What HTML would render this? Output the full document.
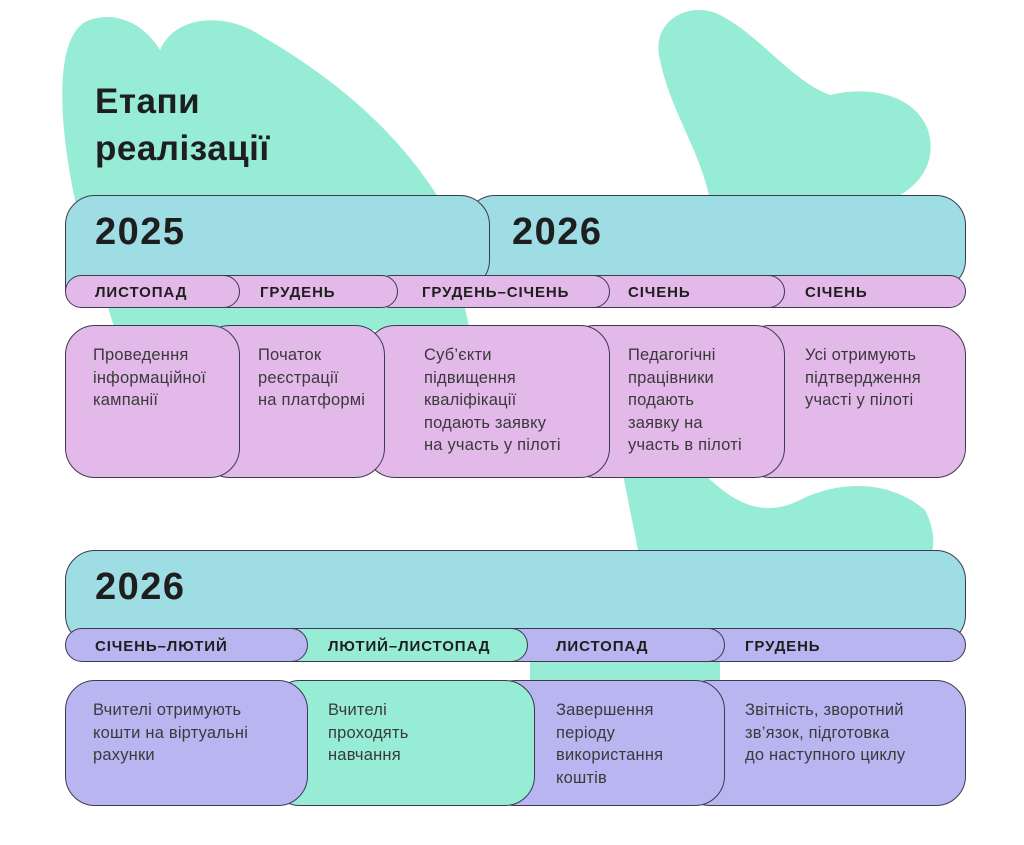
<!DOCTYPE html>
<html><head><meta charset="utf-8"><style>
body{margin:0;width:1024px;height:845px;background:#fff;position:relative;overflow:hidden;font-family:"Liberation Sans","DejaVu Sans",sans-serif;color:#2a2a2a}
.b{position:absolute;box-sizing:border-box;border:1.3px solid #3d3a50}
.t{position:absolute;font-size:16.5px;line-height:22.5px;color:#3a3a3a;letter-spacing:0.2px}
.m{position:absolute;font-size:15px;font-weight:bold;color:#1e1e1e;letter-spacing:0.9px}
.y{position:absolute;font-size:38px;font-weight:bold;color:#1e1e1e;letter-spacing:1.5px}
.tl{background:#9edde3;border-radius:30px}
.pk{background:#e2b9e9}
.pu{background:#b9b5f1}
.mn{background:#97ecd5}
.mp{border-radius:17px}
.cp{border-radius:30px}
</style></head><body>
<svg style="position:absolute;left:0;top:0" width="1024" height="845">
<path d="M75 200 C58 120 55 40 85 22 C115 8 145 25 160 50 C175 15 225 12 260 35 C320 70 390 120 440 200 L470 330 L115 330 Z" fill="#97ecd5"/>
<path d="M660 60 C650 20 690 0 720 15 C760 35 790 80 830 95 C870 85 915 95 928 130 C940 170 910 200 860 210 L760 232 C730 235 715 220 710 200 C700 150 670 110 660 60 Z" fill="#97ecd5"/>
<path d="M622 470 L700 470 C730 500 760 520 800 500 C840 480 890 480 925 510 C935 530 935 545 930 560 L530 560 L530 700 L720 700 L720 560 L640 560 Z" fill="#97ecd5"/>
</svg>
<div style="position:absolute;left:95px;top:78px;font-size:35px;font-weight:bold;line-height:47px;color:#1e1e1e;letter-spacing:0.5px">Етапи<br>реалізації</div>

<div class="b tl" style="left:465px;top:195px;width:501px;height:95px"></div>
<div class="b tl" style="left:65px;top:195px;width:425px;height:95px;border-radius:30px 30px 30px 0"></div>
<div class="y" style="left:95px;top:211px">2025</div>
<div class="y" style="left:512px;top:211px">2026</div>

<div class="b pk mp" style="left:740px;top:275px;width:226px;height:33px"></div>
<div class="b pk mp" style="left:565px;top:275px;width:220px;height:33px"></div>
<div class="b pk mp" style="left:375px;top:275px;width:235px;height:33px"></div>
<div class="b pk mp" style="left:200px;top:275px;width:198px;height:33px"></div>
<div class="b pk mp" style="left:65px;top:275px;width:175px;height:33px"></div>
<div class="m" style="left:95px;top:284px">ЛИСТОПАД</div>
<div class="m" style="left:260px;top:284px">ГРУДЕНЬ</div>
<div class="m" style="left:422px;top:284px">ГРУДЕНЬ–СІЧЕНЬ</div>
<div class="m" style="left:628px;top:284px">СІЧЕНЬ</div>
<div class="m" style="left:805px;top:284px">СІЧЕНЬ</div>

<div class="b pk cp" style="left:740px;top:325px;width:226px;height:153px"></div>
<div class="b pk cp" style="left:565px;top:325px;width:220px;height:153px"></div>
<div class="b pk cp" style="left:365px;top:325px;width:245px;height:153px"></div>
<div class="b pk cp" style="left:200px;top:325px;width:185px;height:153px"></div>
<div class="b pk cp" style="left:65px;top:325px;width:175px;height:153px"></div>
<div class="t" style="left:93px;top:344px">Проведення<br>інформаційної<br>кампанії</div>
<div class="t" style="left:258px;top:344px">Початок<br>реєстрації<br>на платформі</div>
<div class="t" style="left:424px;top:344px">Суб’єкти<br>підвищення<br>кваліфікації<br>подають заявку<br>на участь у пілоті</div>
<div class="t" style="left:628px;top:344px">Педагогічні<br>працівники<br>подають<br>заявку на<br>участь в пілоті</div>
<div class="t" style="left:805px;top:344px">Усі отримують<br>підтвердження<br>участі у пілоті</div>

<div class="b tl" style="left:65px;top:550px;width:901px;height:95px"></div>
<div class="y" style="left:95px;top:566px">2026</div>

<div class="b pu mp" style="left:680px;top:628px;width:286px;height:34px"></div>
<div class="b pu mp" style="left:485px;top:628px;width:240px;height:34px"></div>
<div class="b mn mp" style="left:270px;top:628px;width:258px;height:34px"></div>
<div class="b pu mp" style="left:65px;top:628px;width:243px;height:34px"></div>
<div class="m" style="left:95px;top:638px">СІЧЕНЬ–ЛЮТИЙ</div>
<div class="m" style="left:328px;top:638px">ЛЮТИЙ–ЛИСТОПАД</div>
<div class="m" style="left:556px;top:638px">ЛИСТОПАД</div>
<div class="m" style="left:745px;top:638px">ГРУДЕНЬ</div>

<div class="b pu cp" style="left:680px;top:680px;width:286px;height:126px"></div>
<div class="b pu cp" style="left:485px;top:680px;width:240px;height:126px"></div>
<div class="b mn cp" style="left:270px;top:680px;width:265px;height:126px"></div>
<div class="b pu cp" style="left:65px;top:680px;width:243px;height:126px"></div>
<div class="t" style="left:93px;top:699px">Вчителі отримують<br>кошти на віртуальні<br>рахунки</div>
<div class="t" style="left:328px;top:699px">Вчителі<br>проходять<br>навчання</div>
<div class="t" style="left:556px;top:699px">Завершення<br>періоду<br>використання<br>коштів</div>
<div class="t" style="left:745px;top:699px">Звітність, зворотний<br>зв’язок, підготовка<br>до наступного циклу</div>
</body></html>
